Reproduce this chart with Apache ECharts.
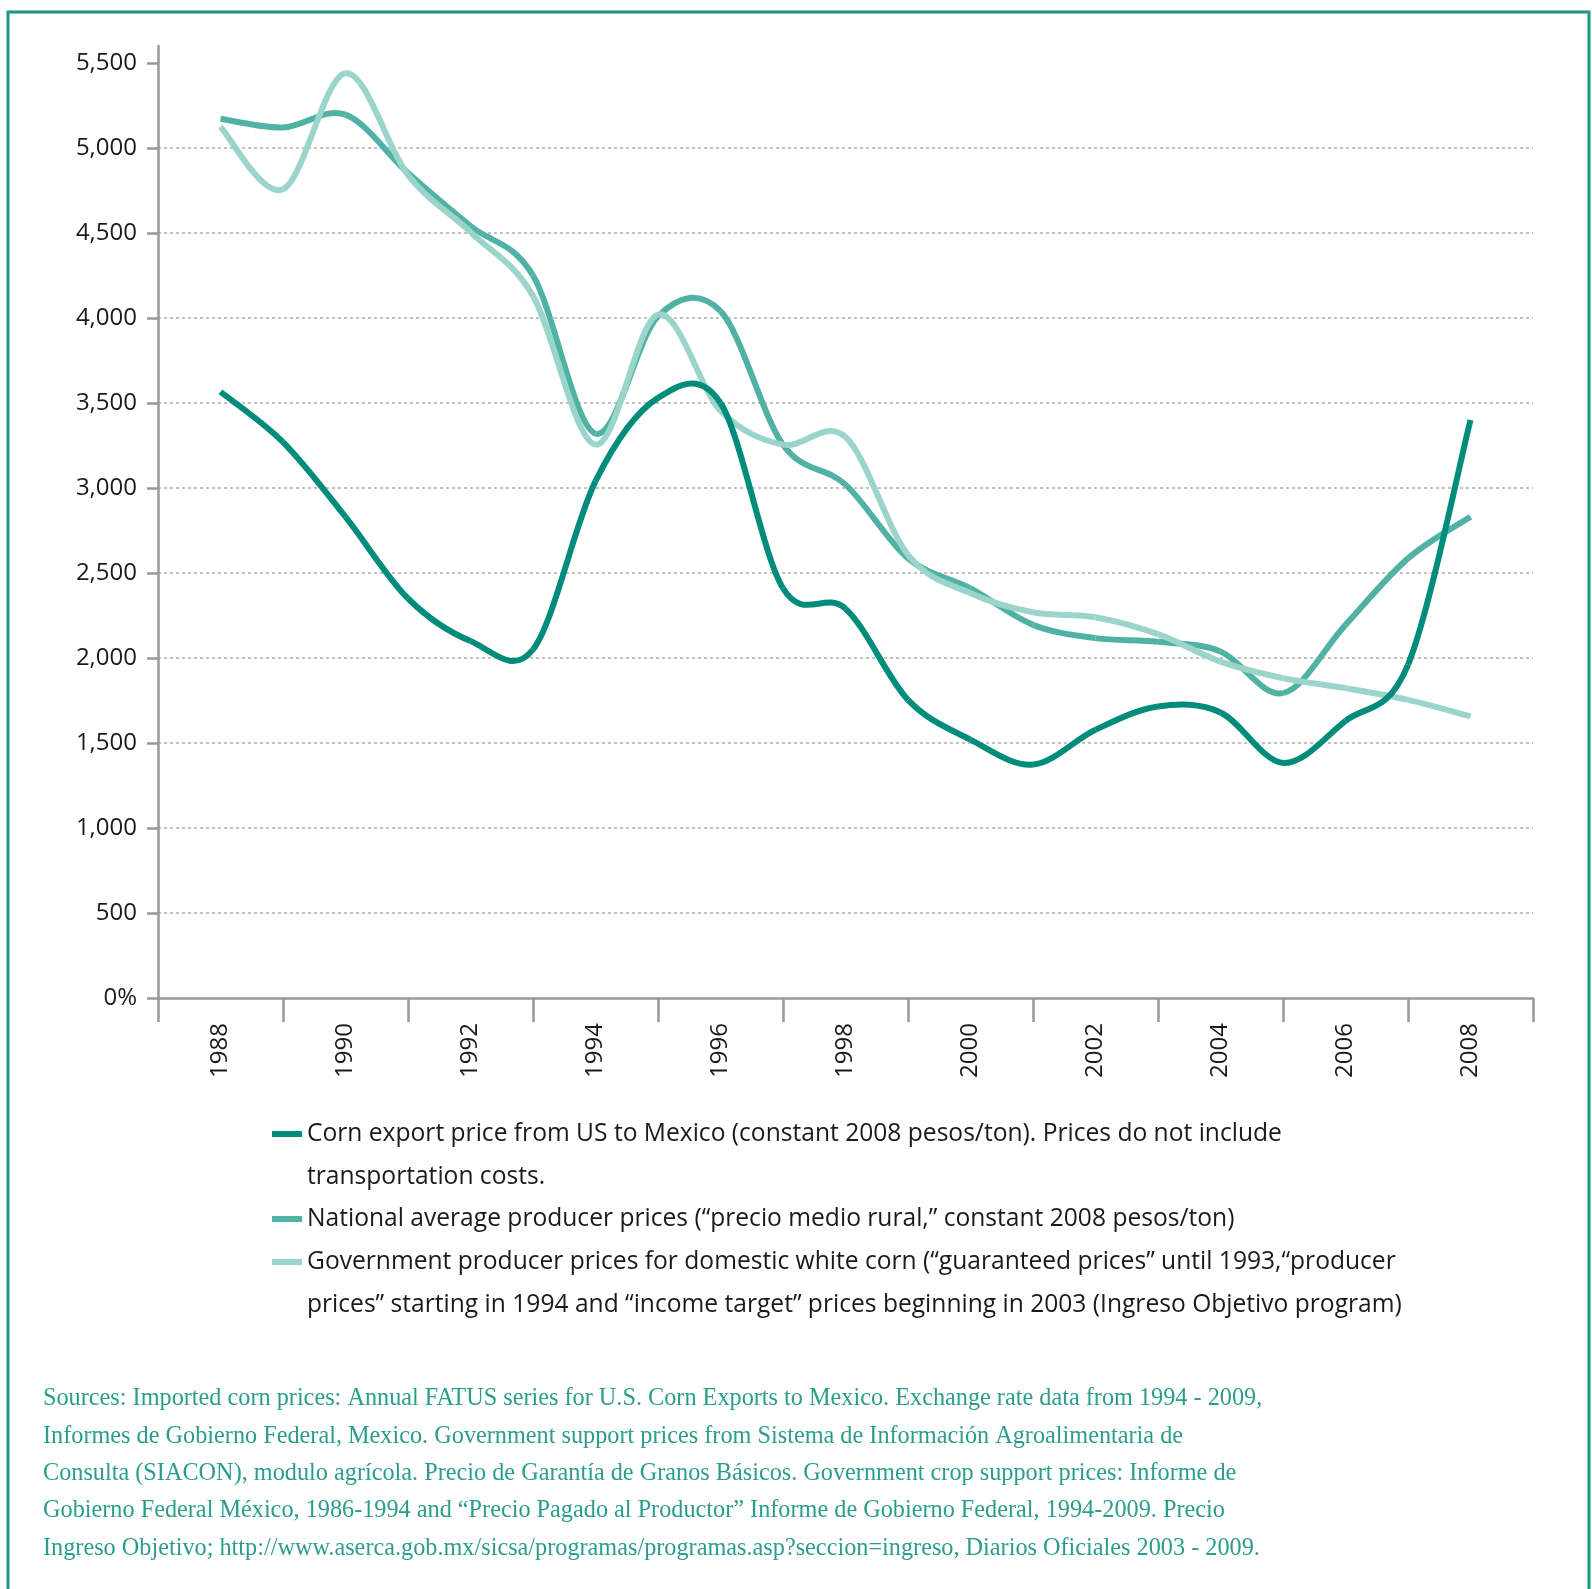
<!DOCTYPE html>
<html>
<head>
<meta charset="utf-8">
<script src="https://cdn.jsdelivr.net/npm/echarts@6/dist/echarts.min.js"></script>
<style>
html,body{margin:0;padding:0;background:#fff;}
#chart{width:1592px;height:1589px;}
</style>
</head>
<body>
<div id="chart"></div>
<script>
const YEARS = [1988,1989,1990,1991,1992,1993,1994,1995,1996,1997,1998,1999,2000,2001,2002,2003,2004,2005,2006,2007,2008];
const CORN_EXPORT = [3566,3270,2830,2350,2100,2050,3040,3530,3500,2410,2290,1754,1520,1373,1578,1715,1680,1383,1630,1960,3400];
const NATIONAL_AVG = [5172,5121,5196,4853,4541,4250,3320,4010,4040,3255,3020,2586,2410,2195,2117,2095,2038,1793,2195,2586,2831];
const GOVERNMENT = [5124,4757,5440,4841,4505,4130,3255,4020,3455,3255,3300,2606,2381,2269,2240,2140,1979,1882,1823,1754,1657];
const X_LABELS = ['1988','1990','1992','1994','1996','1998','2000','2002','2004','2006','2008'];
const Y_TICKS = [0,500,1000,1500,2000,2500,3000,3500,4000,4500,5000,5500];
const NAME_EXPORT = 'Corn export price from US to Mexico (constant 2008 pesos/ton). Prices do not include\ntransportation costs.';
const NAME_NATIONAL = 'National average producer prices (\u201cprecio medio rural,\u201d constant 2008 pesos/ton)';
const NAME_GOV = 'Government producer prices for domestic white corn (\u201cguaranteed prices\u201d until 1993,\u201cproducer\nprices\u201d starting in 1994 and \u201cincome target\u201d prices beginning in 2003 (Ingreso Objetivo program)';
const SOURCE_TEXT = 'Sources: Imported corn prices: Annual FATUS series for U.S. Corn Exports to Mexico. Exchange rate data from 1994 - 2009,\nInformes de Gobierno Federal, Mexico. Government support prices from Sistema de Informaci\u00f3n Agroalimentaria de\nConsulta (SIACON), modulo agr\u00edcola. Precio de Garant\u00eda de Granos B\u00e1sicos. Government crop support prices: Informe de\nGobierno Federal M\u00e9xico, 1986-1994 and \u201cPrecio Pagado al Productor\u201d Informe de Gobierno Federal, 1994-2009. Precio\nIngreso Objetivo; http://www.aserca.gob.mx/sicsa/programas/programas.asp?seccion=ingreso, Diarios Oficiales 2003 - 2009.';

const C_DARK = '#008c7a';
const C_MID = '#50b2a5';
const C_LIGHT = '#9bd4cb';
const AXIS_GREY = '#98989c';
const SANS = '"Open Sans", "Noto Sans", sans-serif';
const LH = 42.6;

function pairs(vals){ return YEARS.map((y,i)=>[y, vals[i]]); }

// Smoothed line (Catmull-Rom style, like spreadsheet smoothing) drawn segment by segment
// from the data through the chart's own coordinate system (api.coord).
function curveSeries(name, vals, color, z){
  return {
    name: name, type: 'custom', coordinateSystem: 'cartesian2d', xAxisIndex: 0, yAxisIndex: 0, z: z,
    color: color, itemStyle: {color: color},
    encode: {x: 0, y: 1},
    data: pairs(vals),
    silent: true,
    renderItem: function(params, api){
      const i = params.dataIndex, n = vals.length;
      if (i >= n - 1) return {type: 'group', children: []};
      const P = k => api.coord([YEARS[Math.max(0, Math.min(n-1, k))], vals[Math.max(0, Math.min(n-1, k))]]);
      const p0 = P(i-1), p1 = P(i), p2 = P(i+1), p3 = P(i+2);
      return {
        type: 'bezierCurve',
        shape: {
          x1: p1[0], y1: p1[1],
          cpx1: p1[0] + (p2[0]-p0[0])/6, cpy1: p1[1] + (p2[1]-p0[1])/6,
          cpx2: p2[0] - (p3[0]-p1[0])/6, cpy2: p2[1] - (p3[1]-p1[1])/6,
          x2: p2[0], y2: p2[1]
        },
        style: {fill: null, stroke: color, lineWidth: 6, lineCap: 'butt'}
      };
    }
  };
}

const chart = echarts.init(document.getElementById('chart'), null, {renderer:'canvas'});

function legendFor(name, lines, top){
  return {
    left: 272, top: top, padding: 0, orient: 'vertical',
    icon: 'rect', itemWidth: 30, itemHeight: 6,
    selectedMode: false,
    data: [name],
    formatter: function(t){ return lines > 1 ? '\n' + t : t; },
    textStyle: {fontFamily: SANS, fontSize: 24.6, color: '#1a1a1a', lineHeight: LH}
  };
}

chart.setOption({
  animation: false,
  backgroundColor: '#ffffff',
  grid: {left: 158, right: 59, top: 46, bottom: 591, containLabel: false},
  xAxis: [
    {type: 'value', min: 1987, max: 2009, show: false, position: 'bottom'},
    {type: 'category', data: X_LABELS, boundaryGap: true, position: 'bottom',
     axisLine: {show: true, lineStyle: {color: AXIS_GREY, width: 2.5}},
     axisTick: {show: true, length: 24, inside: false, lineStyle: {color: AXIS_GREY, width: 2.5}},
     axisLabel: {rotate: 90, margin: 25, fontFamily: SANS, fontSize: 24, color: '#1a1a1a'},
     splitLine: {show: false}}
  ],
  yAxis: {
    type: 'value', min: 0, max: 5600, interval: 500,
    axisLine: {show: true, lineStyle: {color: AXIS_GREY, width: 2.5}},
    axisTick: {show: true, length: 11, customValues: Y_TICKS, lineStyle: {color: AXIS_GREY, width: 2.5}},
    axisLabel: {margin: 21, customValues: Y_TICKS, fontFamily: SANS, fontSize: 24, color: '#1a1a1a',
      formatter: function(v){ return v === 0 ? '0%' : v.toLocaleString('en-US'); }},
    splitLine: {show: true, showMinLine: false, showMaxLine: false, lineStyle: {color: '#b4b4b4', width: 1.6, type: [3, 3]}}
  },
  legend: [
    legendFor(NAME_EXPORT, 2, 1134 - 1.5*LH),
    legendFor(NAME_NATIONAL, 1, 1219 - 0.5*LH),
    legendFor(NAME_GOV, 2, 1262 - 1.5*LH)
  ],
  title: {
    text: SOURCE_TEXT, left: 43, top: 1399 - 37.3/2, padding: 0,
    textStyle: {fontFamily: '"Liberation Serif", serif', fontWeight: 'normal', fontSize: 24.25, lineHeight: 37.3, color: '#2a9d8c'}
  },
  graphic: [{
    type: 'rect', silent: true, z: 100,
    shape: {x: 8, y: 12, width: 1581, height: 1700},
    style: {fill: 'none', stroke: '#1a9683', lineWidth: 3}
  }],
  series: [
    curveSeries(NAME_NATIONAL, NATIONAL_AVG, C_MID, 2),
    curveSeries(NAME_GOV, GOVERNMENT, C_LIGHT, 3),
    curveSeries(NAME_EXPORT, CORN_EXPORT, C_DARK, 4)
  ]
});
</script>
</body>
</html>
